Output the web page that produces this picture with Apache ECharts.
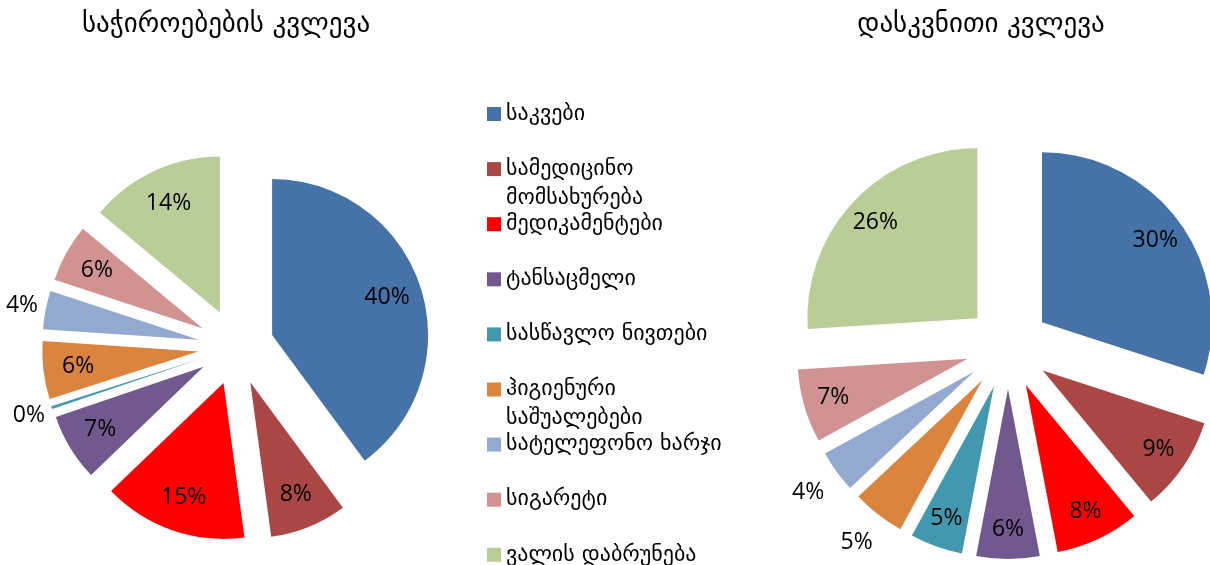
<!DOCTYPE html>
<html><head><meta charset="utf-8">
<script src="https://cdn.jsdelivr.net/npm/echarts@6/dist/echarts.min.js"></script>
<style>html,body{margin:0;background:#fff}#c{width:1210px;height:565px}</style>
</head><body><div id="c"></div>
<script>
const categories = ['საკვები', 'სამედიცინო\nმომსახურება', 'მედიკამენტები', 'ტანსაცმელი', 'სასწავლო ნივთები', 'ჰიგიენური\nსაშუალებები', 'სატელეფონო ხარჯი', 'სიგარეტი', 'ვალის დაბრუნება'];
const colors = ['#4572A7', '#AA4643', '#FF0000', '#71588F', '#4198AF', '#DB843D', '#93A9CF', '#D19392', '#B9CD96'];
const needsValues = [40, 8, 15, 7, 0.3, 6, 4, 6, 14];
const finalValues = [30, 9, 8, 6, 5, 5, 4, 7, 26];
const needsOutside = [false, false, false, false, true, false, true, false, false];
const finalOutside = [false, false, false, false, false, true, true, false, false];
const titles = ['საჭიროებების კვლევა', 'დასკვნითი კვლევა'];

const GEO = '"DejaVu Sans", sans-serif';
const NUM = '"Open Sans", "Liberation Sans", sans-serif';

function pieGroup(values, outside, center, r, offset, innerR, outerR) {
  const base = {
    type: 'pie', center: center, startAngle: 90, clockwise: true,
    selectedMode: 'multiple', selectedOffset: offset, avoidLabelOverlap: false,
    emphasis: { disabled: true }, select: { itemStyle: { borderWidth: 0 } },
    labelLine: { show: false },
    label: { position: 'inside', color: '#000', fontFamily: NUM, fontSize: 23, textBorderWidth: 0,
      formatter: p => Math.round(p.value) + '%' }
  };
  const mk = mode => values.map((v, i) => ({
    name: categories[i], value: v, selected: true,
    itemStyle: { color: mode ? 'rgba(0,0,0,0)' : colors[i] },
    label: { show: mode === 'in' ? !outside[i] : mode === 'out' ? outside[i] : false }
  }));
  return [
    Object.assign({}, base, { radius: [0, r], data: mk(null) }),
    Object.assign({}, base, { radius: innerR, data: mk('in'), silent: true }),
    Object.assign({}, base, { radius: outerR, data: mk('out'), silent: true })
  ];
}

const chart = echarts.init(document.getElementById('c'), null, { renderer: 'canvas' });
chart.setOption({
  animation: false,
  color: colors,
  title: titles.map((t, i) => ({
    text: t, left: [226, 981][i], top: 25, textAlign: 'center', textVerticalAlign: 'middle', padding: 0,
    textStyle: { fontFamily: GEO, fontSize: 27, fontWeight: 'normal', color: '#000' }
  })),
  legend: {
    orient: 'vertical', left: 487, top: 70.5, height: 560, padding: 0, itemGap: -31.9,
    itemWidth: 14, itemHeight: 14, icon: 'rect', data: categories, selectedMode: false,
    formatter: name => name.indexOf('\n') >= 0 ? '\n' + name : name,
    textStyle: { fontFamily: GEO, fontSize: 22, color: '#000', lineHeight: 29, height: 87,
      padding: 0, backgroundColor: 'rgba(255,255,255,0)' }
  },
  series: [].concat(
    pieGroup(needsValues, needsOutside, [236, 347], 156, 38, [80, 156], [166, 188]),
    pieGroup(finalValues, finalOutside, [1008, 347], 170, 42, [104, 170], [190, 214])
  )
});
</script></body></html>
